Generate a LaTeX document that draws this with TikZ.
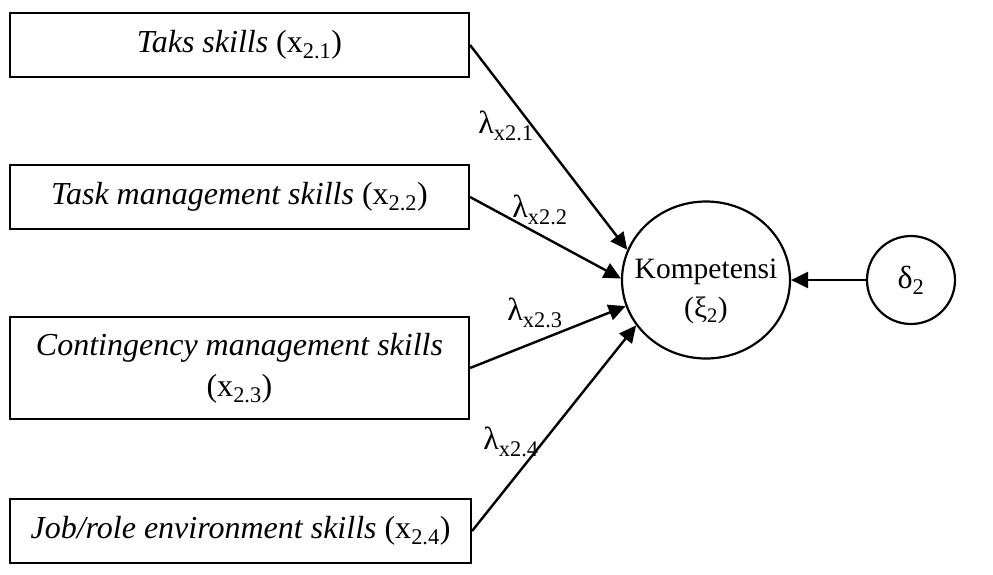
\documentclass[tikz,border=0pt]{standalone}
\usepackage{fontspec}
\setmainfont{Liberation Serif}
\usetikzlibrary{arrows.meta,shapes.geometric}
\begin{document}
\begin{tikzpicture}[x=1pt,y=-1pt,
  every node/.style={font=\fontsize{32}{41}\selectfont},
  box/.style={draw,line width=2.1pt,rectangle,inner sep=0pt,align=center},
  latent/.style={draw,line width=2.2pt,ellipse,inner sep=0pt},
  conn/.style={line width=2.4pt,-{Triangle[length=17pt,width=16pt]}},
  lab/.style={inner sep=0pt}
]
\useasboundingbox (0,0) rectangle (993,574);
% indicator boxes
\node[box,minimum width=459pt,minimum height=64pt] (b1) at (239.5,45) {\textit{Taks skills} (x\textsubscript{2.1})};
\node[box,minimum width=459pt,minimum height=64pt] (b2) at (239.5,197) {\textit{Task management skills} (x\textsubscript{2.2})};
\node[box,minimum width=459pt,minimum height=102pt] (b3) at (239.5,368) {\textit{Contingency management skills}\\(x\textsubscript{2.3})};
\node[box,minimum width=461pt,minimum height=64pt] (b4) at (240.5,531) {\textit{Job/role environment skills} (x\textsubscript{2.4})};
% latent variable
\node[latent,minimum width=168pt,minimum height=157pt] (K) at (706,280) {};
\node[align=center,inner sep=0pt,font=\fontsize{29.5}{39}\selectfont] (Kt) at (706,291) {Kompetensi\\(ξ\textsubscript{2})};
% error term
\node[draw,circle,line width=2.2pt,minimum size=88pt,inner sep=0pt] (D) at (911,280) {δ\textsubscript{2}};
% connectors
\draw[conn] (b1.east) -- (K.159);
\draw[conn] (b2.east) -- (K.179);
\draw[conn] (b3.east) -- (K.198);
\draw[conn] (b4.east) -- (K.213);
\draw[conn] (D.west) -- (K.east);
% loadings
\node[lab] (l1) at (506,126) {λ\textsubscript{x2.1}};
\node[lab] (l2) at (540,210) {λ\textsubscript{x2.2}};
\node[lab] (l3) at (535,313) {λ\textsubscript{x2.3}};
\node[lab] (l4) at (511,442) {λ\textsubscript{x2.4}};
\end{tikzpicture}
\end{document}
